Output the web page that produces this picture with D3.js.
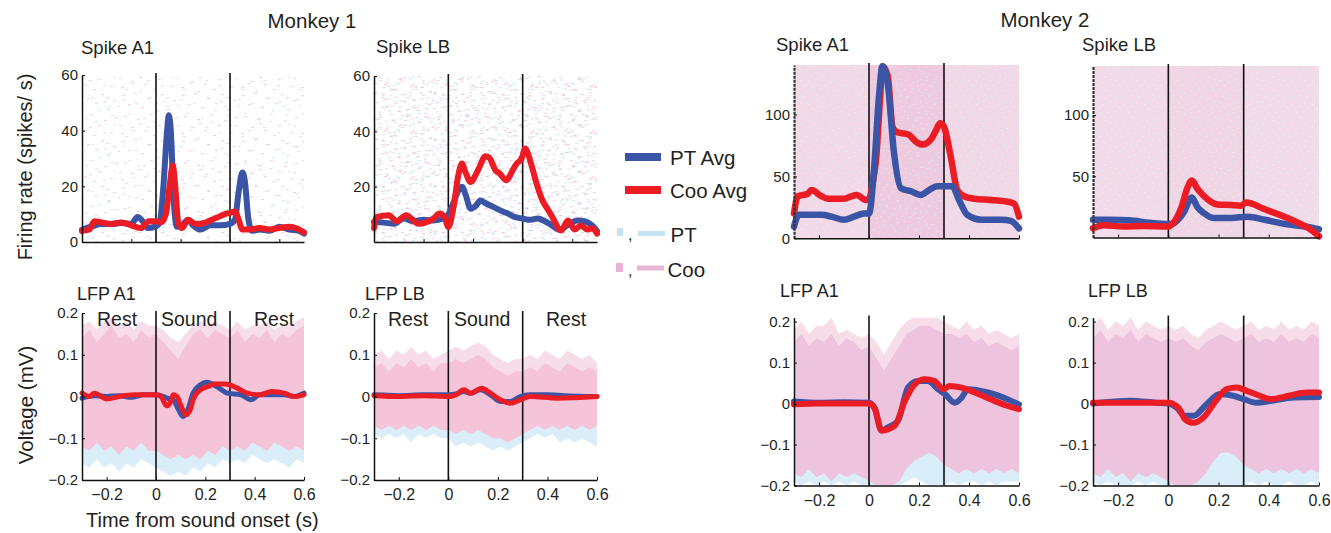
<!DOCTYPE html>
<html>
<head>
<meta charset="utf-8">
<script src="https://cdn.jsdelivr.net/npm/d3@7"></script>
<style>
  body { margin: 0; background: #fff; }
  svg { display: block; }
  text { font-family: "Liberation Sans", Arial, Helvetica, sans-serif; fill: #231f20; }
</style>
</head>
<body>
<svg id="fig" width="1331" height="533"></svg>
<script>
// ---------------------------------------------------------------
// Time axis (s from sound onset) and sound epoch boundaries
// ---------------------------------------------------------------
const timeDomain = [-0.3, 0.6];
const eventTimes = [0, 0.3];
const timeTicks = [-0.2, 0, 0.2, 0.4, 0.6];
const rasterTickTimes = [-0.1, 0.1, 0.3, 0.5];
const epochLabels = ["Rest", "Sound", "Rest"];
const rasterEpochs = [[-0.3, 0], [0, 0.3], [0.3, 0.6]];

// y tick values
const m1SpikeA1Ticks = [0, 20, 40, 60];
const m1SpikeLBTicks = [20, 40, 60];
const m2SpikeA1Ticks = [0, 50, 100];
const m2SpikeLBTicks = [50, 100];
const lfpTicks = [-0.2, -0.1, 0, 0.1, 0.2];

// ---------------------------------------------------------------
// Monkey 1 — average firing rate (spikes/s), [time, rate]
// ---------------------------------------------------------------
const m1SpikeA1PT = [[-0.3,4.4],[-0.26,5.6],[-0.22,6.5],[-0.18,6.5],[-0.14,6.8],[-0.1,6.5],[-0.075,9],[-0.05,7],[-0.035,5],[0,5.6],[0.015,7],[0.03,20],[0.045,40],[0.052,45.5],[0.06,40],[0.072,15],[0.085,5.5],[0.11,6.5],[0.13,8],[0.15,6],[0.18,4.5],[0.22,6],[0.26,6],[0.3,6.5],[0.32,8],[0.335,18],[0.35,25],[0.36,22],[0.375,8],[0.39,4],[0.42,4.5],[0.46,4],[0.5,5.5],[0.54,4.5],[0.58,4],[0.6,3]];
const m1SpikeA1Coo = [[-0.3,4],[-0.27,4.5],[-0.25,7.5],[-0.22,7],[-0.18,6.5],[-0.14,7],[-0.1,6],[-0.06,5],[-0.03,7.5],[0,7.5],[0.02,7],[0.04,10],[0.055,20],[0.068,27.5],[0.078,20],[0.09,7],[0.105,5],[0.13,8],[0.16,6.5],[0.2,7],[0.24,8.5],[0.28,10],[0.3,10.5],[0.32,11],[0.335,8],[0.35,4.5],[0.38,4.5],[0.42,5],[0.46,4.5],[0.5,5],[0.54,5.5],[0.58,4.5],[0.6,3.5]];
const m1SpikeLBPT = [[-0.3,7.2],[-0.26,7],[-0.22,6.6],[-0.18,8.5],[-0.14,7.5],[-0.1,8],[-0.06,7.8],[-0.02,8.5],[0,10],[0.02,14],[0.04,18.5],[0.055,20],[0.07,17],[0.09,12],[0.11,13],[0.13,15],[0.15,14],[0.186,12.5],[0.22,11],[0.24,10.3],[0.27,9],[0.3,8.5],[0.33,8],[0.36,8.5],[0.39,7.5],[0.41,6.5],[0.45,4.5],[0.48,6],[0.52,7.8],[0.55,7.5],[0.58,6],[0.6,4]];
const m1SpikeLBCoo = [[-0.3,5],[-0.29,9],[-0.24,9.7],[-0.21,7.5],[-0.17,9.7],[-0.12,6.6],[-0.06,8.5],[-0.035,10.3],[-0.015,9],[0,5.4],[0.02,12],[0.04,24],[0.055,28.4],[0.07,25],[0.09,21.7],[0.12,26],[0.15,31],[0.165,30.5],[0.19,26],[0.207,24.8],[0.234,22.3],[0.26,26],[0.276,28.4],[0.295,30],[0.31,33.8],[0.325,31],[0.338,27],[0.36,20],[0.38,15],[0.4,12],[0.42,9],[0.455,4.2],[0.483,7.8],[0.51,4.5],[0.535,6],[0.56,4.5],[0.58,5],[0.6,3]];

// ---------------------------------------------------------------
// Monkey 2 — average firing rate (spikes/s)
// ---------------------------------------------------------------
const m2SpikeA1PT = [[-0.3,9.5],[-0.28,19],[-0.245,19],[-0.19,19],[-0.15,17.5],[-0.1,15],[-0.06,17.5],[-0.02,20],[0,20],[0.021,58],[0.04,115],[0.054,139],[0.075,125],[0.1,69],[0.128,40.5],[0.168,38],[0.207,35],[0.24,39],[0.273,42],[0.3,42],[0.333,42],[0.36,31],[0.393,19],[0.45,15],[0.53,15],[0.567,14],[0.6,8]];
const m2SpikeA1Coo = [[-0.3,20],[-0.285,34],[-0.245,36],[-0.23,39],[-0.19,34],[-0.165,32],[-0.1,32],[-0.05,35],[-0.012,31],[0,32],[0.015,45],[0.028,63],[0.045,115],[0.054,139],[0.075,131],[0.094,90],[0.11,86],[0.128,85],[0.155,84],[0.195,77],[0.214,75.7],[0.248,80],[0.27,88],[0.284,93],[0.3,90],[0.327,66],[0.353,39],[0.38,34],[0.42,32],[0.487,31],[0.54,30],[0.58,28],[0.6,17.5]];
const m2SpikeLBPT = [[-0.3,14.5],[-0.23,14.5],[-0.155,14],[-0.074,12],[0,11],[0.02,11.5],[0.06,20],[0.094,32.7],[0.115,25],[0.141,20],[0.18,16],[0.25,16],[0.316,17],[0.384,14.5],[0.465,11],[0.545,9],[0.6,6.7]];
const m2SpikeLBCoo = [[-0.3,7.5],[-0.26,10],[-0.18,9],[-0.1,9.3],[0,9],[0.02,12],[0.054,25.7],[0.075,40],[0.094,46.6],[0.115,40],[0.141,34],[0.195,27],[0.25,26.5],[0.289,26],[0.31,28.5],[0.384,23],[0.49,14.5],[0.57,6],[0.6,1]];

// ---------------------------------------------------------------
// LFP averages (mV), [time, voltage]
// ---------------------------------------------------------------
const m1LfpA1PT = [[-0.3,-0.004],[-0.25,0.002],[-0.2,0],[-0.15,0.002],[-0.1,-0.002],[-0.05,0.004],[0,0.004],[0.03,0],[0.045,-0.004],[0.07,-0.008],[0.09,-0.03],[0.11,-0.048],[0.13,-0.03],[0.15,0.008],[0.18,0.028],[0.205,0.034],[0.246,0.024],[0.29,0.008],[0.345,0.004],[0.385,-0.008],[0.42,0.004],[0.52,0.004],[0.56,0],[0.6,0.008]];
const m1LfpA1Coo = [[-0.3,0.008],[-0.27,0],[-0.25,0.008],[-0.2,-0.006],[-0.15,0],[-0.09,0.004],[0,0.004],[0.02,0],[0.043,-0.022],[0.06,-0.012],[0.07,0.004],[0.085,0],[0.1,-0.02],[0.12,-0.044],[0.14,-0.03],[0.15,-0.008],[0.18,0.016],[0.22,0.026],[0.235,0.03],[0.28,0.03],[0.33,0.02],[0.37,0.008],[0.42,0.004],[0.47,0.012],[0.52,0.008],[0.56,0],[0.6,0.004]];
const m1LfpLBPT = [[-0.3,0.004],[-0.2,0.002],[-0.1,0.004],[0,0.004],[0.03,0.006],[0.063,0.012],[0.09,0.008],[0.13,0.016],[0.17,0.004],[0.21,-0.012],[0.25,-0.012],[0.29,0],[0.33,0.004],[0.4,0.004],[0.47,0.002],[0.6,0]];
const m1LfpLBCoo = [[-0.3,0.002],[-0.2,0],[-0.1,0.002],[0,0],[0.03,0.004],[0.063,0.016],[0.09,0.008],[0.135,0.02],[0.17,0.008],[0.21,-0.008],[0.25,-0.016],[0.29,-0.008],[0.33,0],[0.44,-0.004],[0.6,0]];
const m2LfpA1PT = [[-0.3,0.005],[-0.2,0.002],[-0.1,0.003],[0,0.002],[0.023,-0.012],[0.05,-0.066],[0.076,-0.058],[0.116,-0.042],[0.156,0.039],[0.196,0.055],[0.236,0.055],[0.276,0.035],[0.304,0.023],[0.343,0.002],[0.37,0.014],[0.396,0.035],[0.476,0.027],[0.556,0.01],[0.6,-0.002]];
const m2LfpA1Coo = [[-0.3,-0.002],[-0.2,0],[-0.1,0],[0,0],[0.023,-0.012],[0.05,-0.066],[0.103,-0.054],[0.143,0.006],[0.183,0.047],[0.223,0.059],[0.263,0.055],[0.296,0.035],[0.323,0.043],[0.37,0.039],[0.423,0.027],[0.503,0.006],[0.556,-0.006],[0.6,-0.014]];
const m2LfpLBPT = [[-0.3,0],[-0.15,0.007],[-0.05,0.002],[0,0],[0.033,-0.01],[0.066,-0.03],[0.1,-0.03],[0.152,-0.002],[0.205,0.023],[0.258,0.019],[0.3,0.011],[0.35,0.002],[0.404,0.006],[0.5,0.015],[0.6,0.016]];
const m2LfpLBCoo = [[-0.3,0.002],[-0.15,0.002],[0,0.002],[0.04,-0.01],[0.066,-0.038],[0.1,-0.047],[0.14,-0.034],[0.19,0.007],[0.232,0.035],[0.272,0.039],[0.312,0.031],[0.364,0.019],[0.404,0.011],[0.48,0.019],[0.55,0.027],[0.6,0.027]];

// ---------------------------------------------------------------
// Single-trial LFP spread: envelope of the dense trial band (inner)
// and of the outlying trials (outer), sampled at envTimes
// ---------------------------------------------------------------
const envTimes = [-0.30,-0.27,-0.24,-0.21,-0.18,-0.15,-0.12,-0.09,-0.06,-0.03,0.00,0.03,0.06,0.09,0.12,0.15,0.18,0.21,0.24,0.27,0.30,0.33,0.36,0.39,0.42,0.45,0.48,0.51,0.54,0.57,0.60];

const m1A1InnerHi = [0.14,0.16,0.13,0.15,0.17,0.14,0.15,0.13,0.16,0.14,0.15,0.13,0.11,0.09,0.12,0.15,0.16,0.14,0.16,0.15,0.14,0.16,0.13,0.15,0.14,0.16,0.13,0.15,0.14,0.16,0.17];
const m1A1InnerLo = [-0.12,-0.13,-0.11,-0.13,-0.12,-0.14,-0.12,-0.13,-0.11,-0.13,-0.13,-0.14,-0.15,-0.14,-0.15,-0.14,-0.15,-0.13,-0.14,-0.12,-0.13,-0.12,-0.13,-0.11,-0.12,-0.13,-0.11,-0.12,-0.13,-0.12,-0.13];
const m1A1OuterHi = [0.17,0.18,0.16,0.18,0.19,0.17,0.18,0.16,0.18,0.17,0.17,0.16,0.14,0.13,0.15,0.17,0.18,0.17,0.18,0.17,0.16,0.18,0.16,0.17,0.17,0.18,0.16,0.17,0.17,0.18,0.19];
const m1A1OuterLo = [-0.16,-0.17,-0.15,-0.17,-0.16,-0.18,-0.16,-0.17,-0.15,-0.16,-0.17,-0.18,-0.19,-0.18,-0.19,-0.17,-0.18,-0.16,-0.17,-0.15,-0.16,-0.15,-0.16,-0.14,-0.15,-0.16,-0.15,-0.16,-0.17,-0.15,-0.16];

const m1LBInnerHi = [0.07,0.08,0.06,0.08,0.07,0.09,0.07,0.08,0.06,0.08,0.08,0.09,0.08,0.09,0.10,0.09,0.07,0.06,0.05,0.06,0.06,0.07,0.06,0.08,0.07,0.06,0.08,0.07,0.06,0.07,0.06];
const m1LBInnerLo = [-0.07,-0.08,-0.07,-0.08,-0.07,-0.08,-0.07,-0.08,-0.07,-0.08,-0.08,-0.09,-0.08,-0.09,-0.08,-0.09,-0.10,-0.10,-0.11,-0.10,-0.09,-0.08,-0.07,-0.08,-0.07,-0.08,-0.07,-0.08,-0.07,-0.08,-0.07];
const m1LBOuterHi = [0.10,0.11,0.09,0.11,0.10,0.12,0.10,0.11,0.09,0.10,0.11,0.12,0.11,0.12,0.13,0.12,0.10,0.09,0.08,0.09,0.09,0.10,0.09,0.11,0.10,0.09,0.11,0.10,0.09,0.10,0.08];
const m1LBOuterLo = [-0.09,-0.10,-0.09,-0.10,-0.09,-0.11,-0.09,-0.10,-0.09,-0.10,-0.10,-0.12,-0.11,-0.12,-0.11,-0.12,-0.13,-0.12,-0.13,-0.12,-0.11,-0.10,-0.09,-0.10,-0.09,-0.11,-0.10,-0.11,-0.10,-0.11,-0.12];

const m2A1InnerHi = [0.15,0.17,0.14,0.16,0.15,0.17,0.14,0.16,0.15,0.13,0.14,0.11,0.08,0.11,0.14,0.17,0.18,0.19,0.19,0.18,0.17,0.17,0.16,0.17,0.15,0.16,0.14,0.15,0.14,0.13,0.14];
const m2A1InnerLo = [-0.17,-0.18,-0.16,-0.18,-0.17,-0.19,-0.17,-0.18,-0.17,-0.18,-0.19,-0.20,-0.20,-0.20,-0.19,-0.16,-0.14,-0.13,-0.12,-0.13,-0.15,-0.16,-0.17,-0.16,-0.17,-0.16,-0.17,-0.16,-0.17,-0.16,-0.17];
const m2A1OuterHi = [0.18,0.20,0.17,0.19,0.19,0.21,0.17,0.18,0.17,0.16,0.17,0.15,0.12,0.15,0.18,0.20,0.21,0.21,0.21,0.21,0.20,0.19,0.18,0.20,0.18,0.19,0.17,0.18,0.17,0.16,0.17];
const m2A1OuterLo = [-0.19,-0.20,-0.19,-0.20,-0.19,-0.20,-0.19,-0.20,-0.19,-0.20,-0.20,-0.20,-0.20,-0.20,-0.20,-0.19,-0.18,-0.19,-0.20,-0.20,-0.20,-0.19,-0.20,-0.19,-0.19,-0.20,-0.19,-0.20,-0.19,-0.19,-0.19];

const m2LBInnerHi = [0.16,0.18,0.15,0.17,0.16,0.18,0.15,0.17,0.16,0.15,0.16,0.15,0.16,0.14,0.13,0.15,0.16,0.17,0.16,0.15,0.16,0.17,0.15,0.16,0.15,0.17,0.15,0.16,0.15,0.17,0.16];
const m2LBInnerLo = [-0.17,-0.18,-0.16,-0.18,-0.17,-0.19,-0.17,-0.18,-0.17,-0.18,-0.19,-0.20,-0.20,-0.20,-0.19,-0.17,-0.14,-0.12,-0.12,-0.13,-0.15,-0.16,-0.17,-0.16,-0.17,-0.16,-0.17,-0.16,-0.17,-0.16,-0.17];
const m2LBOuterHi = [0.19,0.21,0.18,0.20,0.19,0.21,0.18,0.20,0.19,0.18,0.19,0.18,0.19,0.17,0.16,0.18,0.19,0.20,0.19,0.18,0.19,0.20,0.18,0.19,0.18,0.20,0.18,0.19,0.18,0.20,0.19];
const m2LBOuterLo = [-0.19,-0.20,-0.19,-0.20,-0.20,-0.20,-0.19,-0.20,-0.19,-0.20,-0.20,-0.20,-0.20,-0.20,-0.20,-0.20,-0.20,-0.20,-0.20,-0.20,-0.20,-0.19,-0.20,-0.19,-0.20,-0.20,-0.19,-0.20,-0.20,-0.19,-0.20];

// Raster shading of the monkey 2 panels per epoch (relative spike density)
const m2A1RasterShade = [0.3, 0.7, 0.35];
const m2LBRasterShade = [0.25, 0.4, 0.25];

const legendLabels = ["PT Avg", "Coo Avg", "PT", "Coo"];

// ---------------------------------------------------------------
// Styles
// ---------------------------------------------------------------
const BLUE = "#3b55a6";
const RED = "#ec1c24";
const TRIAL_BLUE = "#c3e4f5";
const TRIAL_PINK = "#e9b4d3";

const svg = d3.select("#fig");
const defs = svg.append("defs");

// speckle textures used to render the spike rasters
function speckPattern(id, w, h, dots, color, dw, dh) {
  const pat = defs.append("pattern").attr("id", id)
    .attr("patternUnits", "userSpaceOnUse").attr("width", w).attr("height", h);
  pat.selectAll("rect").data(dots).join("rect")
    .attr("x", d => d[0]).attr("y", d => d[1])
    .attr("width", dw).attr("height", dh).attr("fill", color);
}
const speckPink = [[2,3],[14,1],[27,6],[41,2],[53,8],[8,12],[21,15],[35,11],[47,17],[58,13],[4,24],[17,27],[30,22],[44,28],[55,25],[11,35],[24,38],[38,33],[50,40],[1,41],[33,43],[19,31],[46,5]];
const speckBlue = [[6,5],[19,9],[33,3],[46,7],[12,19],[27,24],[40,16],[53,21],[3,31],[16,36],[31,33],[45,38],[56,30],[23,44],[9,42],[37,27],[50,12]];
const speckWhite = [[1,1],[8,4],[15,2],[4,8],[12,10],[18,7],[2,14],[10,16],[17,13],[6,19],[14,20],[19,18]];
speckPattern("rasterPink", 60, 46, speckPink, "#eea2c4", 3, 1.2);
speckPattern("rasterBlue", 58, 47, speckBlue, "#a3d4f0", 3, 1.2);
speckPattern("washWhite", 21, 22, speckWhite, "#ffffff", 1.5, 1);
speckPattern("washBlue", 43, 37, speckBlue.map(d => [d[0] * 0.7, d[1] * 0.75]), "#cfe9f7", 2, 1.2);

function addText(x, y, str, size, opts = {}) {
  const t = svg.append("text").attr("x", x).attr("y", y)
    .attr("font-size", size).text(str);
  if (opts.anchor) t.attr("text-anchor", opts.anchor);
  if (opts.rotate) t.attr("transform", `rotate(${opts.rotate},${x},${y})`);
  return t;
}

// ---------------------------------------------------------------
// Panels
// ---------------------------------------------------------------
const panels = [
  { id: "m1sa1", kind: "spike", monkey: 1, title: "Spike A1", tx: 81, ty: 54,
    x0: 82, x1: 304, yb: 242, yt: 75, yDomain: [0, 60], yTicks: m1SpikeA1Ticks,
    pt: m1SpikeA1PT, coo: m1SpikeA1Coo, width: 6, blueOnTop: false, layers: [[0, 0]] },
  { id: "m1slb", kind: "spike", monkey: 1, title: "Spike LB", tx: 376, ty: 53,
    x0: 374, x1: 597, yb: 242, yt: 76, yDomain: [0, 60], yTicks: m1SpikeLBTicks,
    pt: m1SpikeLBPT, coo: m1SpikeLBCoo, width: 6, blueOnTop: false, layers: [[0, 0], [29, 21], [13, 35]] },
  { id: "m2sa1", kind: "spike", monkey: 2, title: "Spike A1", tx: 776, ty: 51,
    x0: 794, x1: 1019, yb: 238.3, yt: 65, yDomain: [0, 140], yTicks: m2SpikeA1Ticks,
    pt: m2SpikeA1PT, coo: m2SpikeA1Coo, width: 6.5, blueOnTop: true, shade: m2A1RasterShade },
  { id: "m2slb", kind: "spike", monkey: 2, title: "Spike LB", tx: 1082, ty: 51,
    x0: 1093, x1: 1319, yb: 237.5, yt: 66, yDomain: [0, 140], yTicks: m2SpikeLBTicks,
    pt: m2SpikeLBPT, coo: m2SpikeLBCoo, width: 6.5, blueOnTop: false, shade: m2LBRasterShade },
  { id: "m1la1", kind: "lfp", monkey: 1, title: "LFP A1", tx: 77, ty: 300,
    x0: 82, x1: 304, yb: 480, yt: 313, yDomain: [-0.2, 0.2], yTicks: lfpTicks,
    pt: m1LfpA1PT, coo: m1LfpA1Coo, width: 5, blueOnTop: false,
    env: [m1A1OuterLo, m1A1OuterHi, m1A1InnerLo, m1A1InnerHi], bandColor: "#f6c4d9",
    epochX: [97, 161, 254] },
  { id: "m1llb", kind: "lfp", monkey: 1, title: "LFP LB", tx: 365, ty: 300,
    x0: 374, x1: 597, yb: 480, yt: 313, yDomain: [-0.2, 0.2], yTicks: lfpTicks,
    pt: m1LfpLBPT, coo: m1LfpLBCoo, width: 5, blueOnTop: false,
    env: [m1LBOuterLo, m1LBOuterHi, m1LBInnerLo, m1LBInnerHi], bandColor: "#f6c4d9",
    epochX: [388, 454, 546] },
  { id: "m2la1", kind: "lfp", monkey: 2, title: "LFP A1", tx: 780, ty: 297,
    x0: 794, x1: 1019, yb: 485.5, yt: 317.5, yDomain: [-0.2, 0.21], yTicks: lfpTicks,
    pt: m2LfpA1PT, coo: m2LfpA1Coo, width: 6, blueOnTop: false,
    env: [m2A1OuterLo, m2A1OuterHi, m2A1InnerLo, m2A1InnerHi], bandColor: "#edc3dd" },
  { id: "m2llb", kind: "lfp", monkey: 2, title: "LFP LB", tx: 1088, ty: 297,
    x0: 1093, x1: 1319, yb: 485.5, yt: 317.5, yDomain: [-0.2, 0.21], yTicks: lfpTicks,
    pt: m2LfpLBPT, coo: m2LfpLBCoo, width: 6, blueOnTop: false,
    env: [m2LBOuterLo, m2LBOuterHi, m2LBInnerLo, m2LBInnerHi], bandColor: "#edc3dd" }
];

const fmt = d3.format("~g");

function drawPanel(p) {
  const x = d3.scaleLinear().domain(timeDomain).range([p.x0, p.x1]);
  const y = d3.scaleLinear().domain(p.yDomain).range([p.yb, p.yt]);
  const g = svg.append("g");

  defs.append("clipPath").attr("id", "clip-" + p.id)
    .append("rect").attr("x", p.x0).attr("y", p.yt)
    .attr("width", p.x1 - p.x0).attr("height", p.yb - p.yt);
  const plot = g.append("g").attr("clip-path", `url(#clip-${p.id})`);

  // background: spike rasters or single-trial LFP spread
  if (p.kind === "spike") {
    const box = { x: p.x0 + 1, y: p.yt, w: p.x1 - p.x0 - 1, h: p.yb - p.yt };
    if (p.monkey === 1) {
      p.layers.forEach(([dx, dy]) => {
        plot.append("rect").attr("x", box.x - dx).attr("y", box.y - dy)
          .attr("width", box.w + dx).attr("height", box.h + dy)
          .attr("fill", "url(#rasterPink)").attr("opacity", 0.5)
          .attr("transform", `translate(${dx * 0.37},${dy * 0.61})`);
        plot.append("rect").attr("x", box.x - dx).attr("y", box.y - dy)
          .attr("width", box.w + dx).attr("height", box.h + dy)
          .attr("fill", "url(#rasterBlue)").attr("opacity", 0.5)
          .attr("transform", `translate(${dy * 0.53},${dx * 0.29})`);
      });
    } else {
      plot.append("rect").attr("x", box.x).attr("y", box.y)
        .attr("width", box.w).attr("height", box.h).attr("fill", "#f6e6ef");
      plot.selectAll("rect.epoch").data(rasterEpochs).join("rect")
        .attr("class", "epoch")
        .attr("x", d => x(d[0])).attr("y", box.y)
        .attr("width", d => x(d[1]) - x(d[0])).attr("height", box.h)
        .attr("fill", "#e9bdd6")
        .attr("opacity", (d, i) => p.shade[i]);
      plot.append("rect").attr("x", box.x).attr("y", box.y)
        .attr("width", box.w).attr("height", box.h)
        .attr("fill", "url(#washWhite)").attr("opacity", 0.35);
      plot.append("rect").attr("x", box.x).attr("y", box.y)
        .attr("width", box.w).attr("height", box.h)
        .attr("fill", "url(#washBlue)").attr("opacity", 0.8);
    }
  } else {
    const [oLo, oHi, iLo, iHi] = p.env;
    const upperFringe = envTimes.map((t, i) => [t, iHi[i] - 0.01, oHi[i]]);
    const lowerFringe = envTimes.map((t, i) => [t, oLo[i], iLo[i] + 0.01]);
    const inner = envTimes.map((t, i) => [t, iLo[i], iHi[i]]);
    const area = d3.area().x(d => x(d[0])).y0(d => y(d[1])).y1(d => y(d[2]));
    // outlying trials: pale pink above, pale blue below, dense band on top
    plot.append("path").datum(upperFringe).attr("d", area).attr("fill", "#f7dde9");
    plot.append("path").datum(lowerFringe).attr("d", area).attr("fill", "#d9eef8");
    plot.append("path").datum(inner).attr("d", area).attr("fill", p.bandColor);
  }

  // sound onset / offset markers
  g.selectAll("line.event").data(eventTimes).join("line")
    .attr("class", "event")
    .attr("x1", d => x(d)).attr("x2", d => x(d))
    .attr("y1", p.yb).attr("y2", p.yt - 2)
    .attr("stroke", "#111").attr("stroke-width", 1.6);

  // average traces
  const line = d3.line().x(d => x(d[0])).y(d => y(d[1])).curve(d3.curveMonotoneX);
  const series = p.blueOnTop ? [[p.coo, RED], [p.pt, BLUE]] : [[p.pt, BLUE], [p.coo, RED]];
  series.forEach(([data, color]) => {
    g.append("path").datum(data).attr("d", line)
      .attr("fill", "none").attr("stroke", color)
      .attr("stroke-width", p.width)
      .attr("stroke-linejoin", "round").attr("stroke-linecap", "round");
  });

  // axes
  const yAxis = d3.axisLeft(y).tickValues(p.yTicks).tickFormat(fmt)
    .tickSize(-3).tickSizeOuter(0).tickPadding(4);
  const ya = g.append("g").attr("transform", `translate(${p.x0},0)`).call(yAxis);
  ya.selectAll("text").attr("font-size", 15).attr("fill", "#231f20")
    .attr("font-family", '"Liberation Sans", Arial, sans-serif');
  ya.selectAll("line").attr("stroke", "#111");
  ya.select(".domain").attr("stroke", "#111").attr("stroke-width", 1.5);
  if (p.kind === "spike" && p.monkey === 2) {
    ya.select(".domain").attr("stroke", "#333").attr("stroke-width", 2.2)
      .attr("stroke-dasharray", "3,1");
  }

  const xAxis = d3.axisBottom(x)
    .tickValues(p.kind === "spike" && p.monkey === 1 ? rasterTickTimes : timeTicks)
    .tickSize(-3).tickSizeOuter(0).tickPadding(9)
    .tickFormat(p.kind === "lfp" ? fmt : () => "");
  const xa = g.append("g").attr("transform", `translate(0,${p.yb})`).call(xAxis);
  xa.selectAll("text").attr("font-size", 16).attr("fill", "#231f20")
    .attr("font-family", '"Liberation Sans", Arial, sans-serif');
  xa.selectAll("line").attr("stroke", "#111");
  xa.select(".domain").attr("stroke", "#111").attr("stroke-width", 1.5);

  // panel title
  addText(p.tx, p.ty, p.title, p.kind === "spike" ? 18.5 : 18);

  // epoch labels
  if (p.epochX) {
    p.epochX.forEach((ex, i) => addText(ex, 326, epochLabels[i], 19.5));
  }
}

panels.forEach(drawPanel);

// ---------------------------------------------------------------
// Figure labels
// ---------------------------------------------------------------
addText(312, 28, "Monkey 1", 20.5, { anchor: "middle" });
addText(1045, 27, "Monkey 2", 20.5, { anchor: "middle" });
addText(32, 167, "Firing rate (spikes/ s)", 20, { anchor: "middle", rotate: -90 });
addText(33, 405, "Voltage (mV)", 20.5, { anchor: "middle", rotate: -90 });
addText(86, 527, "Time from sound onset (s)", 20);

// ---------------------------------------------------------------
// Legend
// ---------------------------------------------------------------
const lg = svg.append("g");
lg.append("line").attr("x1", 625).attr("x2", 661).attr("y1", 157).attr("y2", 157)
  .attr("stroke", BLUE).attr("stroke-width", 8);
addText(670, 165, legendLabels[0], 20.5);
lg.append("line").attr("x1", 625).attr("x2", 661).attr("y1", 190).attr("y2", 190)
  .attr("stroke", RED).attr("stroke-width", 8);
addText(670, 198, legendLabels[1], 20.5);

lg.append("rect").attr("x", 617).attr("y", 228).attr("width", 6).attr("height", 8).attr("fill", TRIAL_BLUE);
addText(628, 240, ",", 16);
lg.append("line").attr("x1", 638).attr("x2", 665).attr("y1", 233.5).attr("y2", 233.5)
  .attr("stroke", TRIAL_BLUE).attr("stroke-width", 5);
addText(670.5, 241.5, legendLabels[2], 20.5);

lg.append("rect").attr("x", 616).attr("y", 263).attr("width", 7).attr("height", 9).attr("fill", TRIAL_PINK);
addText(628, 276, ",", 16);
lg.append("line").attr("x1", 637).attr("x2", 664).attr("y1", 268).attr("y2", 268)
  .attr("stroke", TRIAL_PINK).attr("stroke-width", 5);
addText(667.5, 276.5, legendLabels[3], 20.5);
</script>
</body>
</html>
